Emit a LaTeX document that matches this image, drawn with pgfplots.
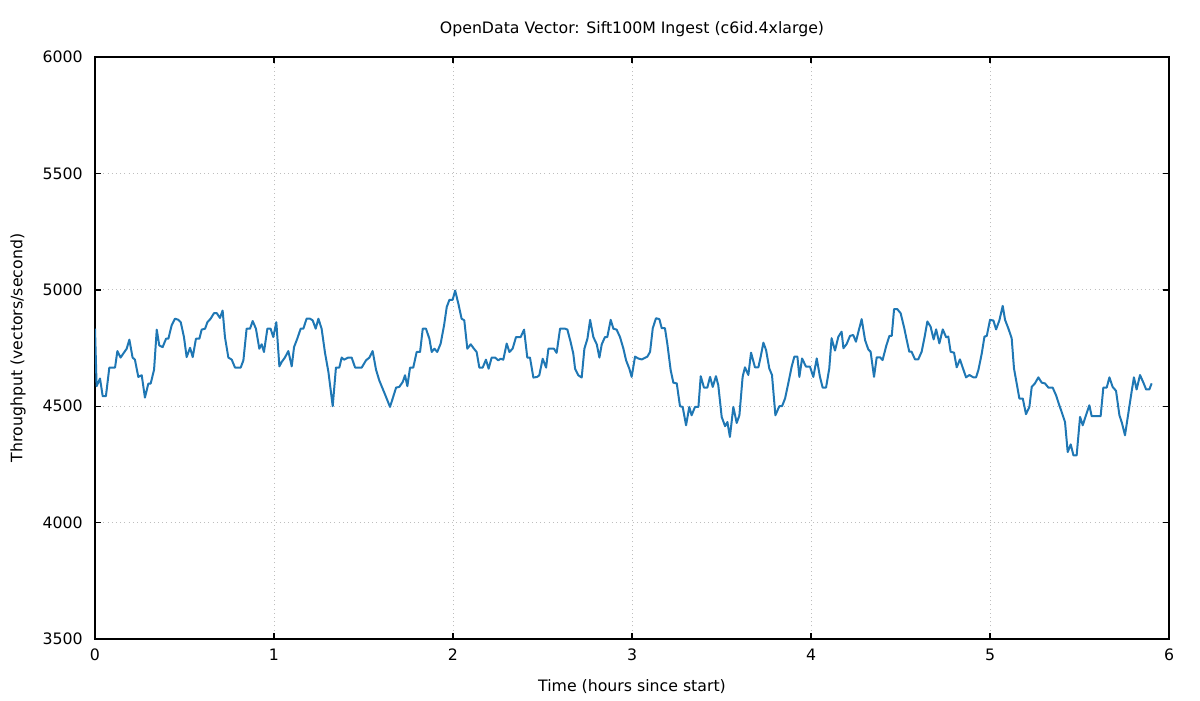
\documentclass[border=0pt]{standalone}
\usepackage{fontspec}
\setmainfont{DejaVu Sans}
\usepackage{pgfplots}
\pgfplotsset{compat=1.18}
\definecolor{lineblue}{RGB}{31,119,180}
\definecolor{gridgray}{RGB}{190,190,190}

\begin{document}
\begin{tikzpicture}
\begin{axis}[
    scale only axis,
    width=537bp, height=291bp,
    xmin=0, xmax=6,
    ymin=3500, ymax=6000,
    xtick={0,1,2,3,4,5,6},
    ytick={3500,4000,4500,5000,5500,6000},
    font=\fontsize{7.9}{10}\selectfont,
    /pgf/number format/assume math mode=true,
    /pgf/number format/1000 sep={},
    axis line style={black, line width=0.7bp},
    tick style={black, line width=0.7bp},
    tick align=inside,
    major tick length=3bp,
    xmajorgrids=true, ymajorgrids=true,
    grid style={gridgray, line width=0.5bp, dash pattern=on 0.5bp off 1.6bp},
    yticklabel style={anchor=east, inner sep=0pt, xshift=-6bp},
    xticklabel style={anchor=center, inner sep=0pt, yshift=-8bp},
    every axis title shift=0pt,
    title={OpenData Vector: Sift100M Ingest (c6id.4xlarge)},
    title style={at={(axis description cs:0.5,1)}, anchor=center, yshift=14bp},
    xlabel={Time (hours since start)},
    ylabel={Throughput (vectors/second)},
    every axis x label/.style={at={(axis description cs:0.5,0)}, anchor=center, yshift=-24bp},
    every axis y label/.style={at={(axis description cs:0,0.5)}, anchor=center, xshift=-38.5bp, rotate=90},
]
\addplot[color=lineblue, line width=1bp, line join=round] table {
0 4833
0.009 4586
0.028 4619
0.043 4543
0.061 4543
0.080 4666
0.112 4666
0.125 4737
0.143 4709
0.158 4726
0.177 4747
0.192 4786
0.210 4709
0.223 4700
0.242 4626
0.261 4633
0.279 4537
0.298 4597
0.311 4597
0.330 4657
0.345 4829
0.359 4761
0.378 4754
0.397 4790
0.410 4790
0.428 4847
0.447 4876
0.466 4871
0.479 4861
0.497 4797
0.512 4711
0.531 4751
0.546 4711
0.564 4790
0.583 4790
0.596 4829
0.615 4833
0.628 4861
0.646 4876
0.665 4900
0.680 4900
0.698 4879
0.713 4911
0.726 4797
0.745 4709
0.764 4700
0.782 4666
0.814 4666
0.829 4697
0.847 4833
0.866 4833
0.881 4866
0.899 4833
0.918 4747
0.931 4766
0.944 4733
0.963 4833
0.981 4833
0.996 4797
1.013 4861
1.030 4671
1.043 4690
1.061 4709
1.080 4737
1.099 4671
1.112 4754
1.130 4790
1.149 4833
1.164 4833
1.182 4876
1.201 4876
1.216 4869
1.233 4833
1.248 4876
1.266 4833
1.285 4729
1.304 4647
1.328 4500
1.346 4666
1.365 4666
1.378 4709
1.391 4700
1.415 4709
1.434 4709
1.453 4666
1.490 4666
1.514 4697
1.533 4709
1.551 4737
1.570 4657
1.588 4611
1.620 4551
1.648 4497
1.663 4533
1.682 4580
1.700 4583
1.719 4604
1.732 4633
1.745 4586
1.760 4666
1.778 4666
1.797 4733
1.816 4733
1.831 4833
1.849 4833
1.868 4790
1.881 4733
1.896 4747
1.912 4733
1.931 4769
1.950 4847
1.965 4926
1.980 4957
1.998 4957
2.012 4997
2.030 4940
2.048 4876
2.063 4869
2.080 4747
2.099 4766
2.117 4747
2.132 4733
2.147 4666
2.166 4666
2.184 4700
2.199 4661
2.216 4709
2.235 4709
2.253 4697
2.266 4704
2.281 4700
2.300 4769
2.315 4733
2.333 4747
2.352 4797
2.378 4797
2.397 4829
2.415 4709
2.430 4709
2.449 4623
2.471 4626
2.482 4633
2.501 4704
2.520 4666
2.533 4747
2.564 4747
2.579 4729
2.598 4833
2.626 4833
2.639 4829
2.657 4776
2.672 4726
2.682 4661
2.700 4633
2.719 4623
2.734 4747
2.751 4790
2.766 4871
2.784 4797
2.803 4766
2.818 4709
2.831 4766
2.849 4797
2.862 4797
2.881 4871
2.896 4833
2.914 4829
2.933 4797
2.952 4747
2.967 4697
2.985 4661
2.998 4626
3.017 4713
3.035 4705
3.054 4701
3.073 4708
3.086 4713
3.101 4734
3.116 4835
3.134 4878
3.153 4874
3.166 4835
3.184 4835
3.197 4770
3.216 4655
3.231 4601
3.250 4598
3.268 4500
3.283 4497
3.302 4418
3.320 4497
3.333 4461
3.352 4497
3.371 4497
3.384 4629
3.402 4580
3.421 4580
3.436 4626
3.451 4583
3.469 4629
3.482 4590
3.501 4454
3.520 4414
3.533 4432
3.547 4368
3.566 4497
3.585 4428
3.600 4461
3.618 4626
3.631 4667
3.650 4634
3.665 4730
3.687 4667
3.706 4667
3.719 4713
3.734 4773
3.749 4741
3.767 4662
3.782 4634
3.801 4461
3.823 4500
3.838 4500
3.855 4533
3.873 4598
3.892 4670
3.907 4713
3.924 4713
3.935 4626
3.950 4705
3.972 4670
3.994 4670
4.013 4626
4.032 4705
4.050 4626
4.065 4580
4.084 4580
4.102 4662
4.115 4792
4.134 4739
4.153 4799
4.171 4820
4.181 4749
4.199 4767
4.218 4802
4.236 4806
4.251 4777
4.270 4835
4.283 4874
4.302 4784
4.320 4744
4.333 4734
4.352 4626
4.367 4710
4.386 4710
4.400 4698
4.419 4756
4.438 4802
4.451 4802
4.464 4917
4.482 4917
4.501 4899
4.521 4835
4.534 4787
4.549 4734
4.562 4734
4.581 4701
4.599 4701
4.618 4734
4.635 4799
4.650 4864
4.668 4842
4.685 4787
4.699 4830
4.717 4770
4.736 4830
4.755 4796
4.767 4799
4.780 4734
4.799 4730
4.814 4667
4.832 4701
4.847 4667
4.866 4624
4.885 4634
4.907 4624
4.922 4624
4.935 4655
4.954 4727
4.969 4799
4.982 4802
5.000 4871
5.019 4868
5.034 4830
5.052 4868
5.071 4931
5.084 4871
5.102 4835
5.121 4792
5.134 4662
5.149 4598
5.164 4533
5.183 4533
5.201 4466
5.220 4497
5.233 4583
5.251 4598
5.270 4624
5.289 4601
5.307 4598
5.326 4580
5.350 4580
5.369 4547
5.387 4504
5.400 4476
5.419 4432
5.434 4303
5.451 4336
5.466 4289
5.484 4289
5.503 4454
5.518 4418
5.536 4461
5.555 4504
5.568 4457
5.587 4457
5.618 4457
5.633 4580
5.652 4580
5.667 4624
5.685 4583
5.704 4566
5.723 4461
5.737 4428
5.754 4375
5.773 4471
5.791 4562
5.804 4624
5.819 4572
5.838 4634
5.857 4601
5.872 4572
5.890 4572
5.903 4598
};
\end{axis}
% page frame matching the reference margins
\path (current axis.south west) ++(-47.5bp,-30.5bp) coordinate (bl);
\path (current axis.north east) ++(15.5bp,28.5bp) coordinate (tr);
\path[use as bounding box] (bl) rectangle (tr);
\end{tikzpicture}
\end{document}
